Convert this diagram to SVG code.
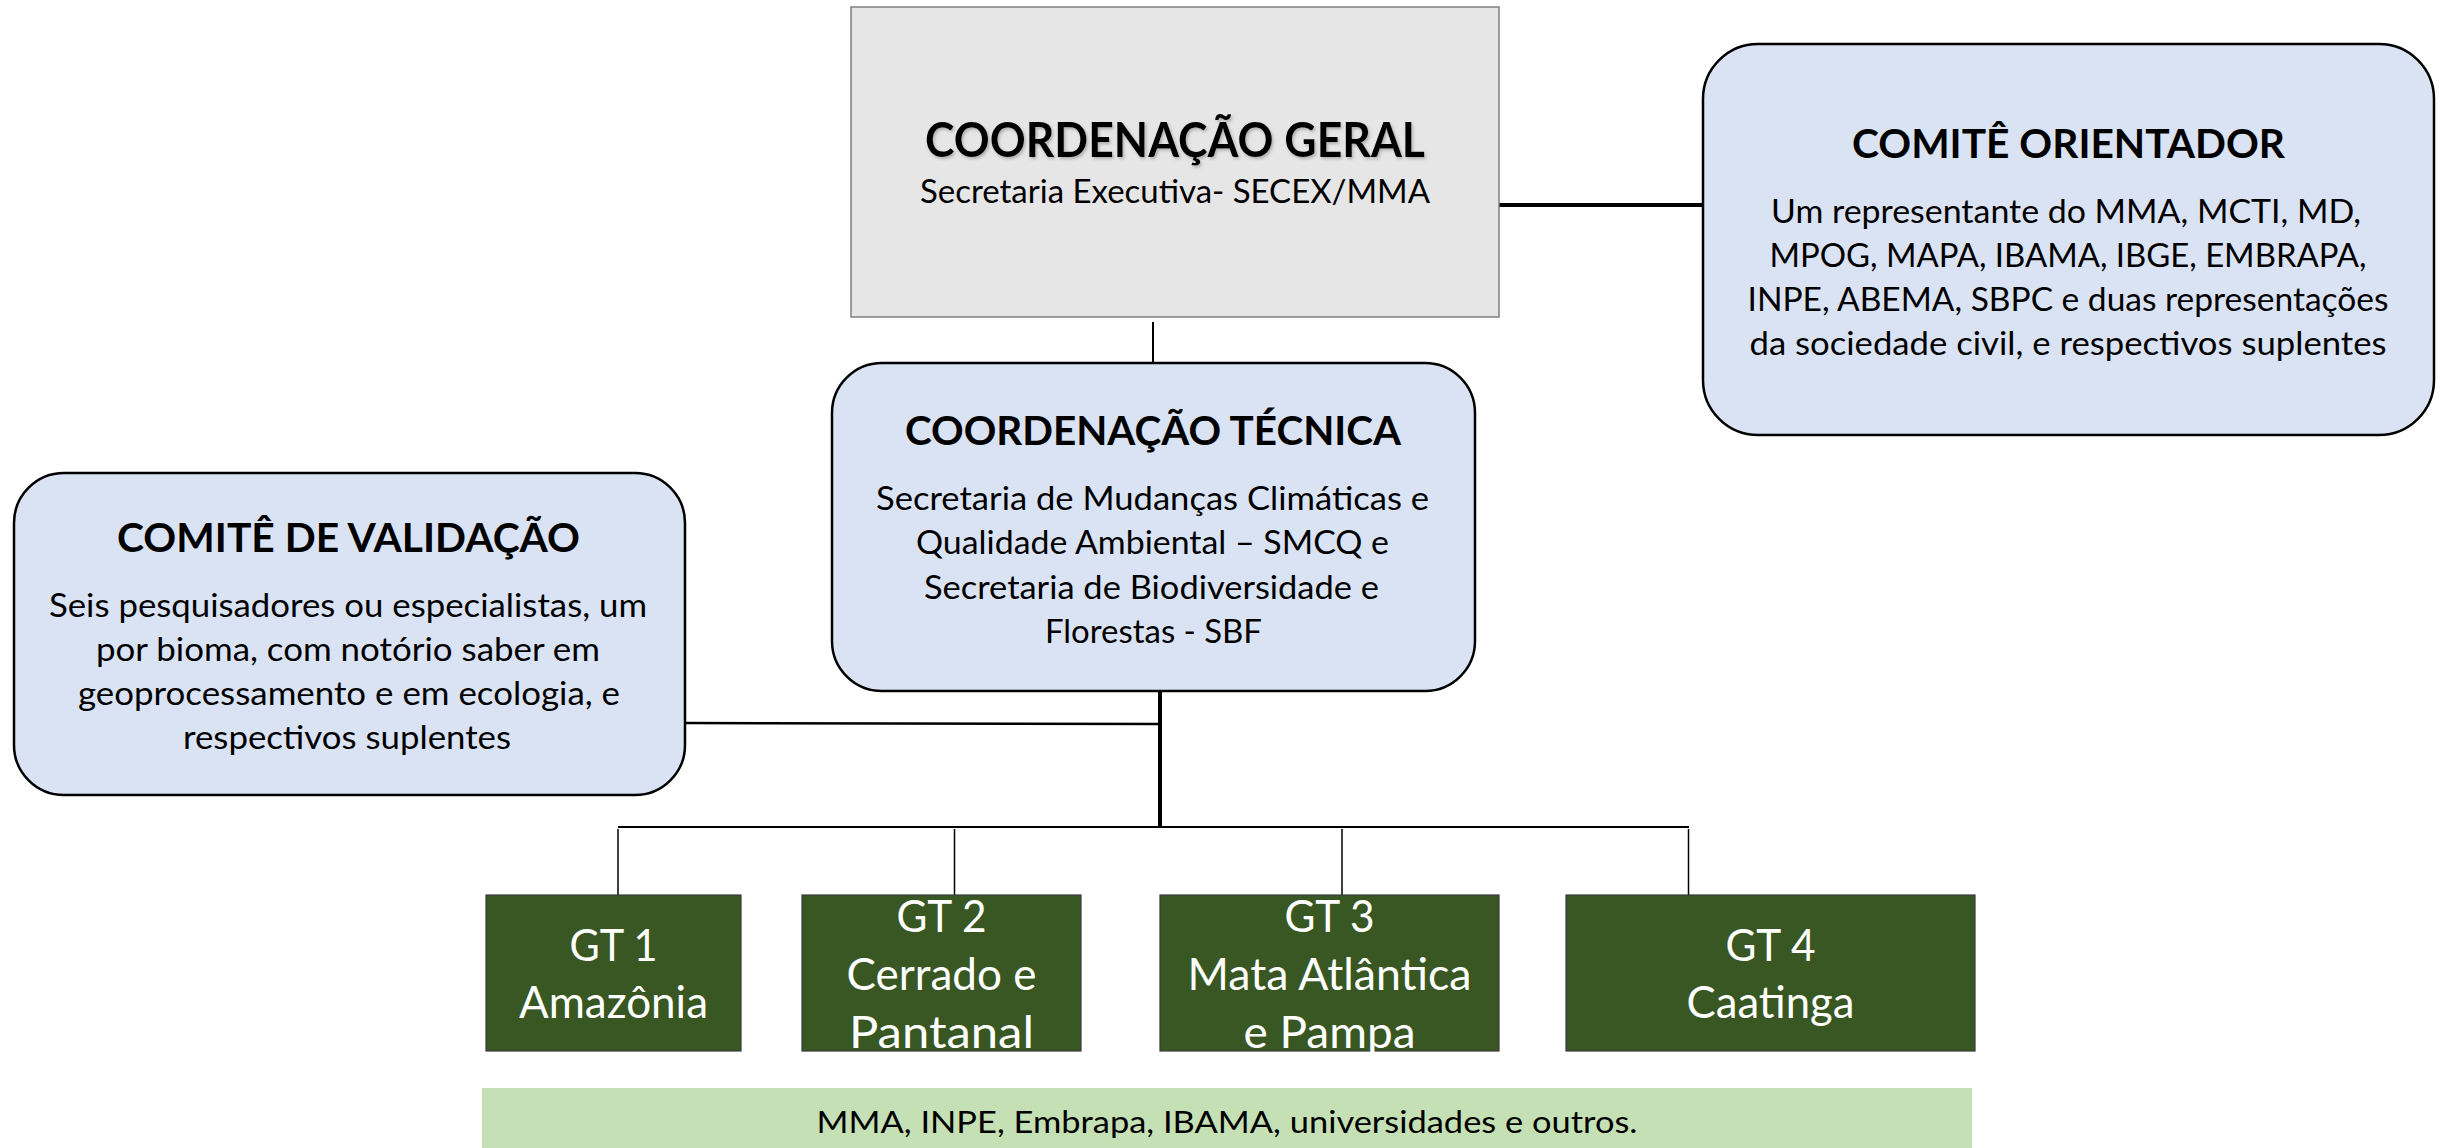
<svg xmlns="http://www.w3.org/2000/svg" width="2448" height="1148" viewBox="0 0 2448 1148">
<defs>
<style>
text{font-family:Lato,"Liberation Sans",sans-serif;text-anchor:middle;fill:#000}
.t{font-weight:bold}
.tg{font-size:47px}
.th{font-size:41px}
.b{font-size:33px}
.sub{font-size:33px}
.gt{font-size:44px;fill:#fff}
.band{font-size:31px}
.rb{fill:#dae3f3;stroke:#000;stroke-width:2.5}
.gb{fill:#385723;stroke:#3a3a3a;stroke-width:1.2}
.ln{stroke:#000;fill:none}
</style>
<filter id="sh" x="-5%" y="-20%" width="110%" height="140%">
<feDropShadow dx="1.5" dy="2" stdDeviation="1.5" flood-color="#777" flood-opacity="0.5"/>
</filter>
</defs>
<rect width="2448" height="1148" fill="#fff"/>
<g id="connectors">
<line class="ln" x1="1153" y1="322" x2="1153" y2="363" stroke-width="2"/>
<line class="ln" x1="1499" y1="205" x2="1703" y2="205" stroke-width="4"/>
<line class="ln" x1="1160" y1="691" x2="1160" y2="827" stroke-width="4"/>
<line class="ln" x1="685" y1="723" x2="1160" y2="724" stroke-width="2.5"/>
<line class="ln" x1="618" y1="827" x2="1689" y2="827" stroke-width="2"/>
<line class="ln" x1="618" y1="829" x2="618" y2="900" stroke-width="1.5" stroke="#222"/>
<line class="ln" x1="954.5" y1="829" x2="954.5" y2="900" stroke-width="1.5" stroke="#222"/>
<line class="ln" x1="1342" y1="829" x2="1342" y2="900" stroke-width="1.5" stroke="#222"/>
<line class="ln" x1="1688.5" y1="829" x2="1688.5" y2="900" stroke-width="1.5" stroke="#222"/>
</g>
<g id="coord-geral">
<rect x="851" y="7" width="648" height="310" fill="#e6e6e6" stroke="#7f7f7f" stroke-width="1.5"/>
<text class="t tg" x="1175" y="157" textLength="500" lengthAdjust="spacingAndGlyphs" filter="url(#sh)">COORDENAÇÃO GERAL</text>
<text class="sub" x="1175" y="203" textLength="510" lengthAdjust="spacingAndGlyphs">Secretaria Executiva- SECEX/MMA</text>
</g>
<g id="comite-orientador">
<rect class="rb" x="1703" y="44" width="731" height="391" rx="55"/>
<text class="t th" x="2068.5" y="158" textLength="433" lengthAdjust="spacingAndGlyphs">COMITÊ ORIENTADOR</text>
<text class="b" x="2066" y="223" textLength="590" lengthAdjust="spacingAndGlyphs">Um representante do MMA, MCTI, MD,</text>
<text class="b" x="2068" y="267" textLength="597" lengthAdjust="spacingAndGlyphs">MPOG, MAPA, IBAMA, IBGE, EMBRAPA,</text>
<text class="b" x="2068" y="311" textLength="641" lengthAdjust="spacingAndGlyphs">INPE, ABEMA, SBPC e duas representações</text>
<text class="b" x="2068" y="355" textLength="637" lengthAdjust="spacingAndGlyphs">da sociedade civil, e respectivos suplentes</text>
</g>
<g id="coord-tecnica">
<rect class="rb" x="832" y="363" width="643" height="328" rx="50"/>
<text class="t th" x="1153" y="445" textLength="496" lengthAdjust="spacingAndGlyphs">COORDENAÇÃO TÉCNICA</text>
<text class="b" x="1152.5" y="510" textLength="553" lengthAdjust="spacingAndGlyphs">Secretaria de Mudanças Climáticas e</text>
<text class="b" x="1152.5" y="554" textLength="473" lengthAdjust="spacingAndGlyphs">Qualidade Ambiental – SMCQ e</text>
<text class="b" x="1151.5" y="599" textLength="455" lengthAdjust="spacingAndGlyphs">Secretaria de Biodiversidade e</text>
<text class="b" x="1153.5" y="643" textLength="217" lengthAdjust="spacingAndGlyphs">Florestas - SBF</text>
</g>
<g id="comite-validacao">
<rect class="rb" x="14" y="473" width="671" height="322" rx="50"/>
<text class="t th" x="348.5" y="552" textLength="463" lengthAdjust="spacingAndGlyphs">COMITÊ DE VALIDAÇÃO</text>
<text class="b" x="348" y="617" textLength="598" lengthAdjust="spacingAndGlyphs">Seis pesquisadores ou especialistas, um</text>
<text class="b" x="348" y="661" textLength="504" lengthAdjust="spacingAndGlyphs">por bioma, com notório saber em</text>
<text class="b" x="349" y="705" textLength="542" lengthAdjust="spacingAndGlyphs">geoprocessamento e em ecologia, e</text>
<text class="b" x="347" y="749" textLength="328" lengthAdjust="spacingAndGlyphs">respectivos suplentes</text>
</g>
<g id="gt1">
<rect class="gb" x="486" y="895" width="255" height="156"/>
<text class="gt" x="613.5" y="961" textLength="88" lengthAdjust="spacingAndGlyphs">GT 1</text>
<text class="gt" x="613.5" y="1018" textLength="189" lengthAdjust="spacingAndGlyphs">Amazônia</text>
</g>
<g id="gt2">
<rect class="gb" x="802" y="895" width="279" height="156"/>
<text class="gt" x="941.5" y="932" textLength="90" lengthAdjust="spacingAndGlyphs">GT 2</text>
<text class="gt" x="941.5" y="990" textLength="190" lengthAdjust="spacingAndGlyphs">Cerrado e</text>
<text class="gt" x="941.5" y="1048" textLength="185" lengthAdjust="spacingAndGlyphs">Pantanal</text>
</g>
<g id="gt3">
<rect class="gb" x="1160" y="895" width="339" height="156"/>
<text class="gt" x="1329.5" y="932" textLength="90" lengthAdjust="spacingAndGlyphs">GT 3</text>
<text class="gt" x="1329.5" y="990" textLength="284" lengthAdjust="spacingAndGlyphs">Mata Atlântica</text>
<text class="gt" x="1329.5" y="1048" textLength="172" lengthAdjust="spacingAndGlyphs">e Pampa</text>
</g>
<g id="gt4">
<rect class="gb" x="1566" y="895" width="409" height="156"/>
<text class="gt" x="1770.5" y="961" textLength="90" lengthAdjust="spacingAndGlyphs">GT 4</text>
<text class="gt" x="1770.5" y="1018" textLength="168" lengthAdjust="spacingAndGlyphs">Caatinga</text>
</g>
<g id="band">
<rect x="482" y="1088" width="1490" height="62" fill="#c5e0b4"/>
<text class="band" x="1227" y="1133" textLength="821" lengthAdjust="spacingAndGlyphs">MMA, INPE, Embrapa, IBAMA, universidades e outros.</text>
</g>
</svg>
